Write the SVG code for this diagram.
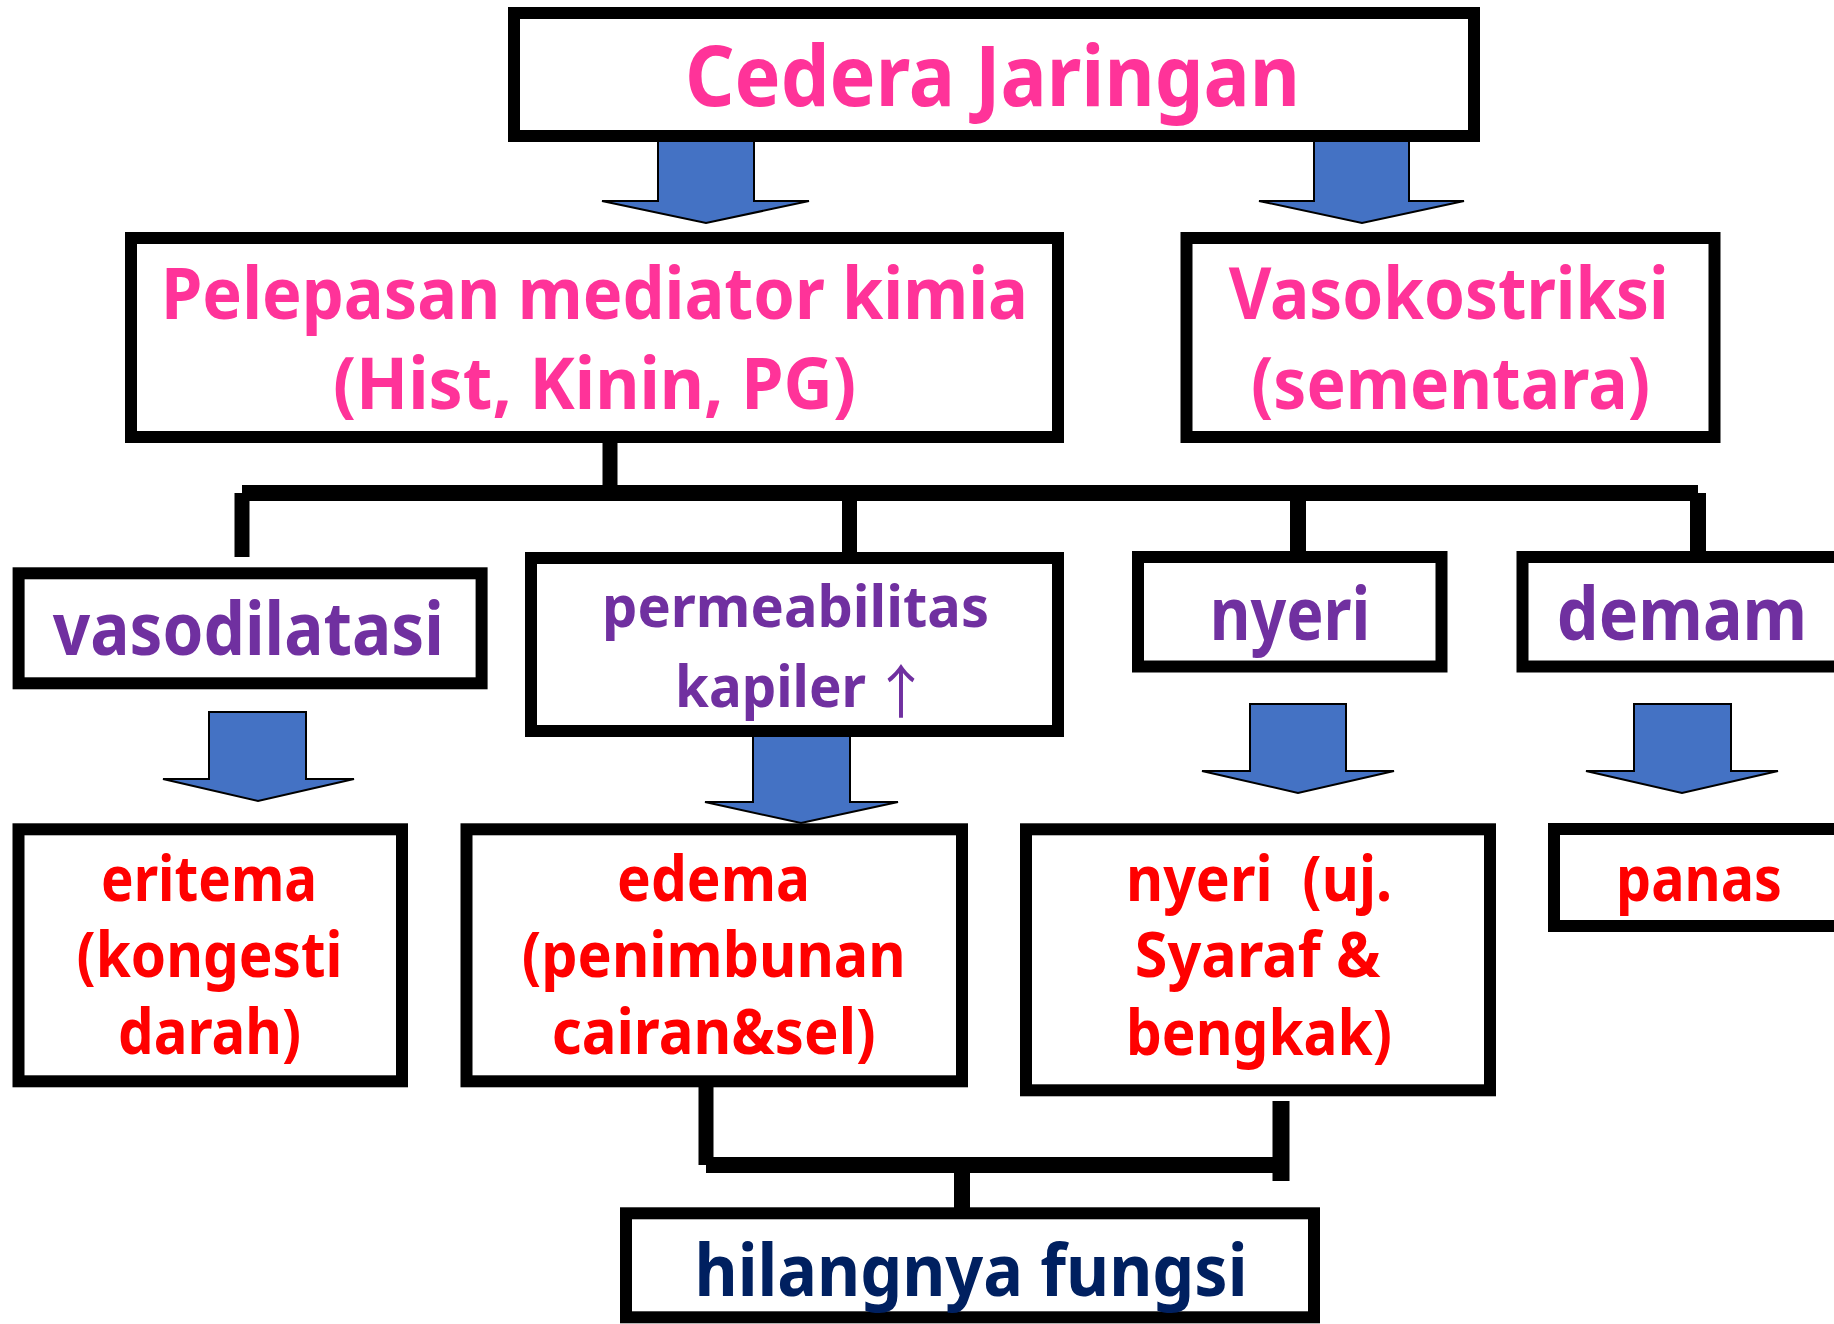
<svg xmlns="http://www.w3.org/2000/svg" width="1834" height="1324" viewBox="0 0 1834 1324">
<style>
.box{fill:#fff;stroke:#000;stroke-width:12}
.arr{fill:#4472C4;stroke:#000;stroke-width:2;stroke-linejoin:miter}
.t{font-family:"Noto Sans","Open Sans","Liberation Sans",sans-serif;font-weight:bold;text-anchor:middle}
.pink{fill:#FF3399}
.pur{fill:#7030A0}
.red{fill:#FF0000}
.navy{fill:#002060}
.con{fill:none;stroke:#000;stroke-width:15;stroke-linecap:butt}
.up{font-family:"Noto Sans CJK SC","DejaVu Sans",sans-serif;font-weight:normal}
</style>
<rect width="1834" height="1324" fill="#fff"/>
<g id="arrows">
<polygon class="arr" points="658,138 754,138 754,201 809,201 706,223 602,201 658,201"/>
<polygon class="arr" points="1314,138 1409,138 1409,201 1464,201 1362,223 1259,201 1314,201"/>
<polygon class="arr" points="209,712 306,712 306,779 354,779 258,801 163,779 209,779"/>
<polygon class="arr" points="753,735 850,735 850,802 898,802 801,823 705,802 753,802"/>
<polygon class="arr" points="1250,704 1346,704 1346,771 1394,771 1298,793 1202,771 1250,771"/>
<polygon class="arr" points="1634,704 1731,704 1731,771 1778,771 1682,793 1586,771 1634,771"/>
</g>
<g id="connectors">
<path class="con" d="M610,429 V493"/>
<path class="con" d="M242,493 H1698" style="stroke-width:16"/>
<path class="con" d="M242,493 V557"/>
<path class="con" d="M849.5,500 V552"/>
<path class="con" d="M1298,500 V552" style="stroke-width:16"/>
<path class="con" d="M1698,493 V552" style="stroke-width:16"/>
<path class="con" d="M706,1087 V1165"/>
<path class="con" d="M706,1165 H1281" style="stroke-width:16"/>
<path class="con" d="M1281,1101 V1181" style="stroke-width:17"/>
<path class="con" d="M962,1172 V1208" style="stroke-width:16"/>
</g>
<g id="n-cedera">
<rect class="box" x="514" y="13" width="960" height="123"/>
<text class="t pink" x="992.5" y="106" font-size="84" textLength="615" lengthAdjust="spacingAndGlyphs">Cedera Jaringan</text>
</g>
<g id="n-pelepasan">
<rect class="box" x="131" y="238" width="927" height="199"/>
<text class="t pink" x="594.5" y="319" font-size="71" textLength="867" lengthAdjust="spacingAndGlyphs">Pelepasan mediator kimia</text>
<text class="t pink" x="594.5" y="409" font-size="71" textLength="523" lengthAdjust="spacingAndGlyphs">(Hist, Kinin, PG)</text>
</g>
<g id="n-vasokostriksi">
<rect class="box" x="1186.5" y="238" width="528" height="199"/>
<text class="t pink" x="1448.7" y="319" font-size="71" textLength="440" lengthAdjust="spacingAndGlyphs">Vasokostriksi</text>
<text class="t pink" x="1450.5" y="409" font-size="71" textLength="399" lengthAdjust="spacingAndGlyphs">(sementara)</text>
</g>
<g id="n-vasodilatasi">
<rect class="box" x="18.6" y="573.3" width="463" height="110"/>
<text class="t pur" x="248.3" y="655" font-size="74" textLength="391" lengthAdjust="spacingAndGlyphs">vasodilatasi</text>
</g>
<g id="n-permeabilitas">
<rect class="box" x="531" y="558" width="527" height="173"/>
<text class="t pur" x="795.5" y="627" font-size="58" textLength="387" lengthAdjust="spacingAndGlyphs">permeabilitas</text>
<text class="t pur" y="707" font-size="58" style="text-anchor:start"><tspan x="675" textLength="191" lengthAdjust="spacingAndGlyphs">kapiler</tspan> <tspan class="up" x="872" dy="6" font-size="58">↑</tspan></text>
</g>
<g id="n-nyeri">
<rect class="box" x="1138" y="557" width="303.5" height="109.5"/>
<text class="t pur" x="1290" y="640" font-size="74" textLength="160.6" lengthAdjust="spacingAndGlyphs">nyeri</text>
</g>
<g id="n-demam">
<rect class="box" x="1522.5" y="557" width="340" height="109.5"/>
<text class="t pur" x="1682" y="640" font-size="74" textLength="250.5" lengthAdjust="spacingAndGlyphs">demam</text>
</g>
<g id="n-eritema">
<rect class="box" x="18.5" y="829.3" width="383.5" height="252"/>
<text class="t red" x="209" y="900.7" font-size="62" textLength="216" lengthAdjust="spacingAndGlyphs">eritema</text>
<text class="t red" x="209.5" y="977.3" font-size="62" textLength="266" lengthAdjust="spacingAndGlyphs">(kongesti</text>
<text class="t red" x="209.5" y="1054.3" font-size="62" textLength="183" lengthAdjust="spacingAndGlyphs">darah)</text>
</g>
<g id="n-edema">
<rect class="box" x="466.5" y="829.3" width="495.5" height="252"/>
<text class="t red" x="713.5" y="900.7" font-size="62" textLength="193" lengthAdjust="spacingAndGlyphs">edema</text>
<text class="t red" x="713.7" y="977.3" font-size="62" textLength="384" lengthAdjust="spacingAndGlyphs">(penimbunan</text>
<text class="t red" x="713.7" y="1054.3" font-size="62" textLength="324" lengthAdjust="spacingAndGlyphs">cairan&amp;sel)</text>
</g>
<g id="n-nyeri-uj">
<rect class="box" x="1026" y="829.3" width="464" height="261"/>
<text class="t red" x="1259" y="900.7" font-size="62" textLength="266" lengthAdjust="spacingAndGlyphs" xml:space="preserve">nyeri  (uj.</text>
<text class="t red" x="1257.7" y="977.3" font-size="62" textLength="245.7" lengthAdjust="spacingAndGlyphs">Syaraf &amp;</text>
<text class="t red" x="1259" y="1055" font-size="62" textLength="266" lengthAdjust="spacingAndGlyphs">bengkak)</text>
</g>
<g id="n-panas">
<rect class="box" x="1554" y="829" width="300" height="97"/>
<text class="t red" x="1699" y="900.7" font-size="62" textLength="166" lengthAdjust="spacingAndGlyphs">panas</text>
</g>
<g id="n-hilangnya">
<rect class="box" x="626" y="1213.3" width="688" height="104"/>
<text class="t navy" x="971" y="1296" font-size="71" textLength="553" lengthAdjust="spacingAndGlyphs">hilangnya fungsi</text>
</g>
</svg>
